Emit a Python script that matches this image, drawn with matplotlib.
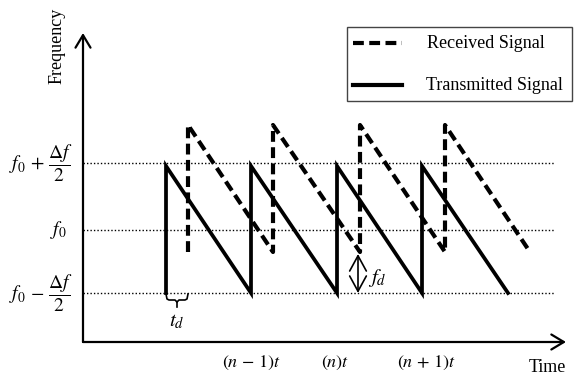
import matplotlib.pyplot as plt
from matplotlib.patches import Rectangle

plt.rcParams['font.family'] = ['Liberation Serif', 'DejaVu Serif']
plt.rcParams['mathtext.fontset'] = 'stix'

# frequency levels (y units, origin on the time axis)
f_levels = [49, 112, 179]
f_labels = [r'$f_0\,-\,\dfrac{\Delta f}{2}$', r'$f_0$', r'$f_0\,+\,\dfrac{\Delta f}{2}$']

# transmitted chirps: start / end of each sweep, low / high frequency
tx_start = [83, 168, 254, 339]
tx_end = [168, 254, 339, 425]
tx_low, tx_high = 49, 176

# received chirps (delayed by td, shifted by fd)
rx_start = [105, 190, 277, 362]
rx_end = [190, 277, 362, 447]
rx_low, rx_high = 90, 217

# time tick labels
t_ticks = [169, 252, 344]
t_labels = [r'$(n\,-\,1)t$', r'$(n)t$', r'$(n\,+\,1)t$']


def chirp_path(starts, ends, lo, hi):
    xs, ys = [], []
    for s, e in zip(starts, ends):
        xs += [s, s, e]
        ys += [lo, hi, lo]
    return xs, ys


fig = plt.figure(figsize=(5.74, 3.75), dpi=100)
ax = fig.add_axes([0, 0, 1, 1])
ax.set_xlim(-83, 491)
ax.set_ylim(-33, 342)
ax.axis('off')

# reference frequency levels
for lvl in f_levels:
    ax.plot([0, 472], [lvl, lvl], color='black', lw=1.0, ls=(0, (1, 1.5)), zorder=1)
ax.text(-10, f_levels[0], f_labels[0], ha='right', va='center', fontsize=14)
ax.text(-16, f_levels[1], f_labels[1], ha='right', va='center', fontsize=14)
ax.text(-10, f_levels[2], f_labels[2], ha='right', va='center', fontsize=14)

# signals
x, y = chirp_path(tx_start, tx_end, tx_low, tx_high)
ax.plot(x, y, color='black', lw=2.7, solid_joinstyle='miter', zorder=3)
x, y = chirp_path(rx_start, rx_end, rx_low, rx_high)
ax.plot(x, y, color='black', lw=3.0, ls=(0, (2.6, 1.3)), zorder=3)

# axes arrows
arrow = dict(arrowstyle='->,head_length=0.45,head_width=0.27', color='black',
             lw=1.6, mutation_scale=20, shrinkA=0, shrinkB=0)
ax.annotate('', xy=(0, 309), xytext=(0, 0), arrowprops=arrow)
ax.annotate('', xy=(483, 0), xytext=(0, 0), arrowprops=arrow)
ax.text(-26, 296, 'Frequency', rotation=90, ha='center', va='center', fontsize=13)
ax.text(464, -25, 'Time', ha='center', va='center', fontsize=13)

for tx, tl in zip(t_ticks, t_labels):
    ax.text(tx, -21, tl, ha='center', va='center', fontsize=13)

# td brace
s, d = tx_start[0], rx_start[0]
m = (s + d) / 2
bx = [s, s + 1, s + 3, m - 2, m, m]
by = [tx_low - 1, tx_low - 6, tx_low - 7, tx_low - 7, tx_low - 9, tx_low - 14]
ax.plot(bx, by, color='black', lw=1.2)
ax.plot([d, d - 1, d - 3, m + 2, m], [tx_low - 1, tx_low - 6, tx_low - 7, tx_low - 7, tx_low - 9],
        color='black', lw=1.2)
ax.text(m, 20, r'$t_d$', ha='center', va='center', fontsize=15)

# fd arrow
fd_arrow = dict(arrowstyle='<->,head_length=0.55,head_width=0.3', color='black',
                lw=1.2, mutation_scale=20, shrinkA=0, shrinkB=0)
ax.annotate('', xy=(275, rx_low - 2), xytext=(275, tx_low), arrowprops=fd_arrow)
ax.text(285, 64, r'$f_d$', ha='left', va='center', fontsize=15)

# legend box
ax.add_patch(Rectangle((264, 241), 225, 74, fill=False, edgecolor='#444444', lw=1.0))
ax.plot([270, 319], [299, 299], color='black', lw=3.0, ls=(0, (2.6, 1.3)))
ax.plot([270, 319], [257, 257], color='black', lw=3.0)
ax.text(344, 299, 'Received Signal', ha='left', va='center', fontsize=13)
ax.text(343, 257, 'Transmitted Signal', ha='left', va='center', fontsize=13)

fig.savefig('out.png', dpi=100)
